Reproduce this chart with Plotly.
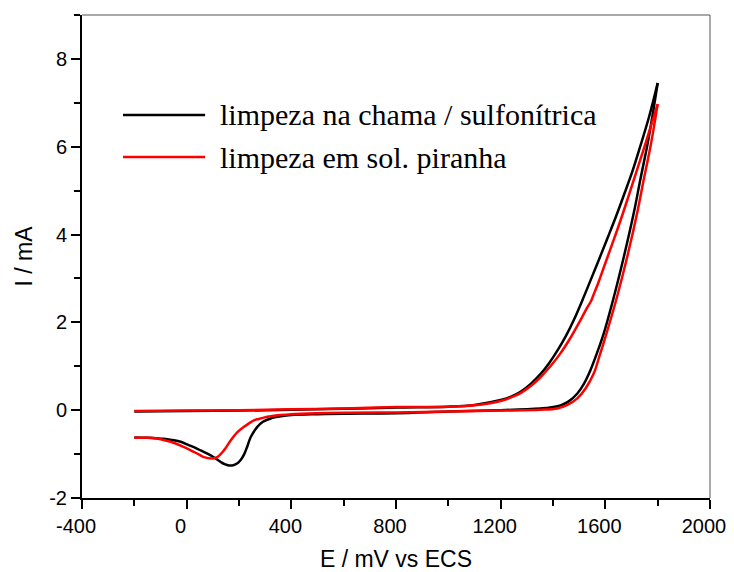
import plotly.graph_objects as go

# ---- data ----
# black: limpeza na chama / sulfonítrica
E_blk_fwd = [-200, 0, 200, 400, 600, 800, 1000, 1100, 1200, 1240, 1276, 1315, 1352, 1385, 1416, 1450, 1480, 1512, 1543, 1575, 1607, 1640, 1671, 1704, 1734, 1768, 1800]
I_blk_fwd = [-0.03, -0.02, -0.01, 0.01, 0.03, 0.06, 0.08, 0.12, 0.23, 0.31, 0.42, 0.60, 0.82, 1.07, 1.35, 1.70, 2.06, 2.50, 2.95, 3.42, 3.90, 4.40, 4.90, 5.45, 6.02, 6.70, 7.45]
E_blk_rev = [1800, 1780, 1760, 1734, 1709, 1671, 1633, 1594, 1568, 1543, 1518, 1493, 1460, 1429, 1390, 1352, 1200, 1000, 800, 600, 500, 400,
             360, 321, 290, 270, 245, 232, 220, 207, 194, 178, 162, 145, 130, 110, 92, 65, 41, 10, -23, -55, -87, -120, -150, -200]
I_blk_rev = [7.45, 6.70, 6.02, 5.26, 4.50, 3.50, 2.59, 1.75, 1.30, 0.91, 0.60, 0.38, 0.20, 0.11, 0.06, 0.04, 0.0, -0.03, -0.07, -0.08, -0.09, -0.11,
             -0.14, -0.19, -0.27, -0.38, -0.61, -0.82, -1.00, -1.13, -1.21, -1.255, -1.26, -1.23, -1.18, -1.10, -1.03, -0.95, -0.88, -0.80, -0.72, -0.68, -0.65, -0.64, -0.63, -0.62]

# red: limpeza em sol. piranha
E_red_fwd = [-200, 0, 200, 400, 600, 800, 1000, 1100, 1200, 1240, 1276, 1315, 1352, 1390, 1429, 1467, 1505, 1530, 1545, 1553, 1575, 1594, 1626, 1658, 1690, 1722, 1760, 1800]
I_red_fwd = [-0.02, -0.01, 0.0, 0.02, 0.04, 0.07, 0.08, 0.11, 0.21, 0.29, 0.39, 0.55, 0.75, 1.00, 1.30, 1.65, 2.05, 2.33, 2.48, 2.60, 2.93, 3.25, 3.78, 4.32, 4.90, 5.49, 6.20, 6.97]
E_red_rev = [1800, 1773, 1747, 1722, 1684, 1645, 1601, 1578, 1556, 1525, 1493, 1455, 1416, 1352, 1200, 1000, 800, 600, 500, 400,
             359, 321, 295, 275, 257, 238, 219, 194, 168, 143, 117, 98, 66, 41, -10, -61, -100, -138, -200]
I_red_rev = [6.97, 6.02, 5.26, 4.50, 3.50, 2.59, 1.68, 1.24, 0.84, 0.50, 0.27, 0.12, 0.04, 0.01, -0.01, -0.03, -0.05, -0.06, -0.07, -0.09,
             -0.11, -0.14, -0.17, -0.20, -0.23, -0.30, -0.38, -0.50, -0.69, -0.91, -1.07, -1.10, -1.07, -0.99, -0.84, -0.72, -0.66, -0.63, -0.63]

legend_labels = ["limpeza na chama / sulfonítrica", "limpeza em sol. piranha"]
colors = ["#000000", "#ff0000"]

x_ticks = [-400, 0, 400, 800, 1200, 1600, 2000]
y_ticks = [-2, 0, 2, 4, 6, 8]

fig = go.Figure()
series = [
    (E_blk_fwd, I_blk_fwd, E_blk_rev, I_blk_rev, colors[0], legend_labels[0]),
    (E_red_fwd, I_red_fwd, E_red_rev, I_red_rev, colors[1], legend_labels[1]),
]
for ef, i_f, er, i_r, c, name in series:
    for xs, ys in ((ef, i_f), (er, i_r)):
        fig.add_trace(go.Scatter(x=xs, y=ys, mode="lines", name=name, showlegend=False,
                                 line=dict(color=c, width=2.5, shape="spline", smoothing=1.0)))

# custom legend (long line samples as in the reference)
leg_y = [0.793, 0.706]
for k in range(2):
    fig.add_shape(type="line", xref="paper", yref="paper", x0=0.0653, x1=0.196, y0=leg_y[k], y1=leg_y[k],
                  line=dict(color=colors[k], width=2.5))
    fig.add_annotation(xref="paper", yref="paper", x=0.2166, y=leg_y[k], xanchor="left", yanchor="middle",
                       text=legend_labels[k], showarrow=False,
                       font=dict(family="Liberation Serif, Times New Roman, serif", size=30, color="black"))

# thin grey top/right frame
fig.add_shape(type="line", xref="paper", yref="paper", x0=0, x1=1, y0=1, y1=1, line=dict(color="#555555", width=1))
fig.add_shape(type="line", xref="paper", yref="paper", x0=1, x1=1, y0=0, y1=1, line=dict(color="#555555", width=1))

axis_font = dict(family="Liberation Sans, Arial, sans-serif", size=20, color="black")
title_font = dict(family="Liberation Sans, Arial, sans-serif", size=23, color="black")
# page body has an 8px margin, so the figure is sized/margined to compensate
fig.update_layout(
    width=734, height=564,
    margin=dict(l=74, r=32, t=7, b=74),
    paper_bgcolor="white", plot_bgcolor="white",
    showlegend=False,
    xaxis=dict(range=[-400, 2000], tickvals=x_ticks, ticktext=[str(v) for v in x_ticks],
               ticks="outside", ticklen=9, tickwidth=1.5, tickcolor="black",
               minor=dict(dtick=200, ticks="outside", ticklen=6, tickwidth=1.5, tickcolor="black"),
               showline=True, linecolor="black", linewidth=2, showgrid=False, zeroline=False,
               tickfont=axis_font, automargin=False, ticklabelshift=-6,
               title=dict(text="E / mV vs ECS", font=title_font, standoff=18)),
    yaxis=dict(range=[-2, 9], tickvals=y_ticks, ticktext=[str(v) for v in y_ticks],
               ticks="outside", ticklen=9, tickwidth=1.5, tickcolor="black",
               minor=dict(dtick=1, ticks="outside", ticklen=6, tickwidth=1.5, tickcolor="black"),
               showline=True, linecolor="black", linewidth=2, showgrid=False, zeroline=False,
               tickfont=axis_font, automargin=False,
               title=dict(text="I / mA", font=title_font, standoff=10)),
)

fig.write_html("out.html")
